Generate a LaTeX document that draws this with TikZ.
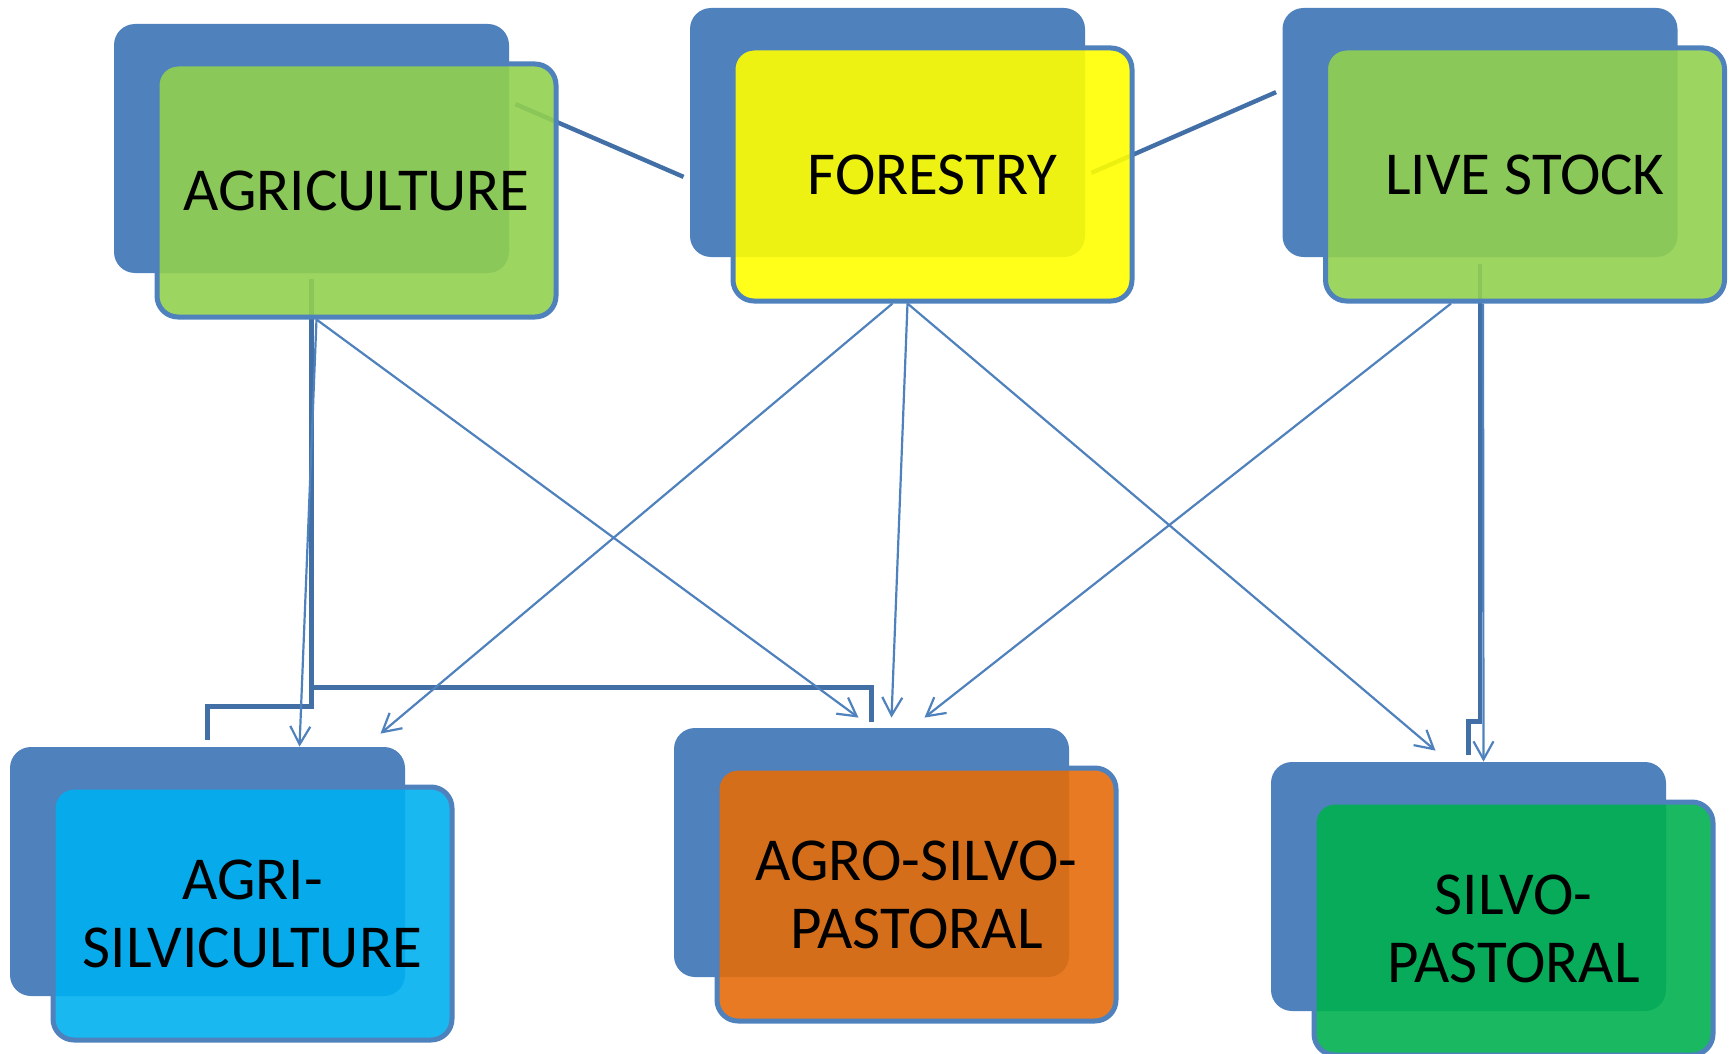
\documentclass[tikz,border=0pt]{standalone}
\usepackage{fontspec}
\setmainfont{Carlito}
\usetikzlibrary{arrows.meta}
\usetikzlibrary{calc}
\definecolor{cardblue}{HTML}{4F81BD}
\definecolor{linkblue}{HTML}{416FA6}
\definecolor{agrigreen}{HTML}{92D050}
\definecolor{foryellow}{HTML}{FFFF00}
\definecolor{silcyan}{HTML}{00B0F0}
\definecolor{agroorange}{HTML}{E46C0A}
\definecolor{pastgreen}{HTML}{00B050}
\tikzset{
    backbox/.style={
        rectangle,
        rounded corners=10.5pt,
        fill=cardblue,
        inner sep=0pt,
        minimum width=197.5pt,
        minimum height=124.5pt},
    frontbox/.style={
        rectangle,
        rounded corners=10.5pt,
        draw=cardblue,
        line width=2.5pt,
        fill opacity=0.9,
        text opacity=1,
        inner sep=0pt,
        align=center,
        minimum width=199.5pt,
        minimum height=126.5pt,
        font=\fontsize{30.5pt}{34pt}\selectfont},
    link/.style={
        draw=linkblue,
        line width=2.2pt},
    flow/.style={
        draw=cardblue,
        line width=1.1pt,
        -{Straight Barb[length=9pt,width=10pt]}}}

\begin{document}
\begin{tikzpicture}[x=0.5pt,y=-0.5pt]
        \useasboundingbox (0,0) rectangle (1731,1054);

        % back cards
        \node[backbox] (agriB) at (311.5,148.5) {};
        \node[backbox] (forB) at (887.5,132.5) {};
        \node[backbox] (liveB) at (1480,132.5) {};
        \node[backbox] (agrisilB) at (207.5,871.5) {};
        \node[backbox] (agroB) at (871.5,852.5) {};
        \node[backbox] (silvoB) at (1468.5,886.5) {};

        % thick links, under the front cards
        \draw[link, shorten <=3.3pt, shorten >=3.3pt] ([yshift=23.5pt]agriB.east) -- ([yshift=-23.5pt]forB.west);
        \draw[link, shorten <=3.3pt, shorten >=3.3pt] ([yshift=-21.5pt]forB.east) -- ([yshift=21.5pt]liveB.west);
        \draw[link, shorten <=3pt, shorten >=3.5pt] (agriB.south) |- ([yshift=20pt]agrisilB.north) -- (agrisilB.north);
        \draw[link, shorten <=3pt, shorten >=3pt] (agriB.south) |- ([yshift=20pt]agroB.north) -- (agroB.north);
        \draw[link, shorten <=3.5pt, shorten >=3.5pt] (liveB.south) |- ([yshift=20pt]silvoB.north) -- (silvoB.north);

        % front cards
        \node[frontbox, fill=agrigreen] (agri) at ([shift={(45,42)}]agriB.center) {AGRICULTURE};
        \node[frontbox, fill=foryellow] (for) at ([shift={(45,42)}]forB.center) {FORESTRY};
        \node[frontbox, fill=agrigreen] (live) at ([shift={(45,42)}]liveB.center) {LIVE STOCK};
        \node[frontbox, fill=silcyan] (agrisil) at ([shift={(45,42)}]agrisilB.center) {AGRI-\\SILVICULTURE};
        \node[frontbox, fill=agroorange] (agro) at ([shift={(45,42)}]agroB.center) {AGRO-SILVO-\\PASTORAL};
        \node[frontbox, fill=pastgreen] (silvo) at ([shift={(45,42)}]silvoB.center) {SILVO-\\PASTORAL};

        % arrows
        \draw[flow] ($(agri.south)+(-40,0)$) -- ($(agrisilB.north)+(92,0)$);
        \draw[flow] ($(agri.south)+(-40,0)$) -- ($(agroB.north)+(-13,-10)$);
        \draw[flow] ($(for.south)+(-40,0)$) -- ($(agrisilB.north)+(173,-13)$);
        \draw[flow] ($(for.south)+(-25,0)$) -- ($(agroB.north)+(20,-10)$);
        \draw[flow] ($(for.south)+(-25,0)$) -- ($(silvoB.north)+(-33,-11)$);
        \draw[flow] ($(live.south)+(-74,0)$) -- ($(agroB.north)+(53,-10)$);
        \draw[flow] ($(live.south)+(-42,0)$) -- ($(silvoB.north)+(15,0)$);
    \end{tikzpicture}
\end{document}
